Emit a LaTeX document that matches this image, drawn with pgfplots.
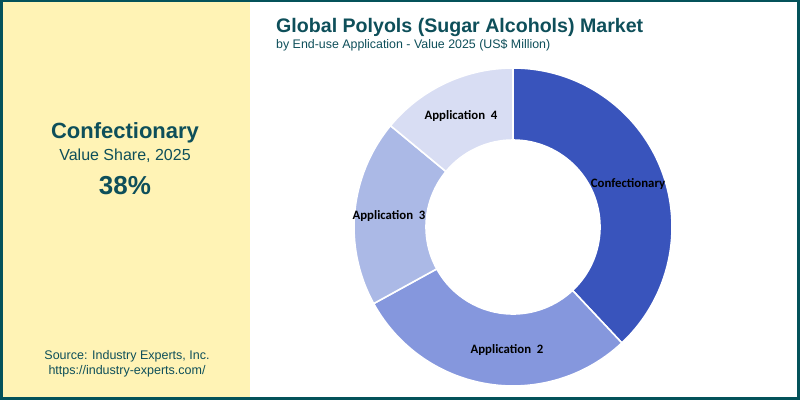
\documentclass[border=0pt]{standalone}
\usepackage{pgfplots}
\pgfplotsset{compat=1.18}
\usepackage{pgfplotstable}
\usepackage{fontspec}
\setmainfont{Liberation Sans}
\newfontfamily\lblfont{Carlito}
\definecolor{bordc}{RGB}{4,82,90}
\definecolor{txtc}{RGB}{14,79,90}
\definecolor{panel}{RGB}{255,243,181}
\definecolor{c1}{RGB}{57,84,188}
\definecolor{c2}{RGB}{133,151,221}
\definecolor{c3}{RGB}{171,185,230}
\definecolor{c4}{RGB}{216,221,243}
\pgfplotstableread[col sep=comma]{
label,value
Confectionary,38
Application 2,29
Application 3,19
Application 4,14
}\datatable
\def\Ro{159}\def\Ri{87}
\newcommand\donutwedge[3]{%
  \fill[#3,draw=white,line width=1.6pt]
   (axis cs:{\Ro*cos(#1)},{\Ro*sin(#1)}) arc[start angle=#1,end angle=#2,radius=\Ro]
   -- (axis cs:{\Ri*cos(#2)},{\Ri*sin(#2)}) arc[start angle=#2,end angle=#1,radius=\Ri] -- cycle;}
\begin{document}
\begin{tikzpicture}[x=1pt,y=1pt]
\fill[bordc] (0,0) rectangle (800,400);
\fill[white] (2.5,3) rectangle (797,398);
\fill[panel] (2.5,3) rectangle (250,398);
\node[font=\fontsize{22}{26}\selectfont\bfseries,text=txtc] at (125,267) {Confectionary};
\node[font=\fontsize{16}{19}\selectfont,text=txtc] at (125,244) {Value Share, 2025};
\node[font=\fontsize{26}{30}\selectfont\bfseries,text=txtc] at (125,214) {38\%};
\node[font=\fontsize{12.5}{15}\selectfont,text=txtc,align=center] at (127,36) {Source: Industry Experts, Inc.\\https://industry-experts.com/};
\node[anchor=base west,font=\fontsize{19.6}{24}\selectfont\bfseries,text=txtc,inner sep=0pt] at (276,367) {Global Polyols (Sugar Alcohols) Market};
\node[anchor=base west,font=\fontsize{12.4}{15}\selectfont,text=txtc,inner sep=0pt] at (276,352) {by End-use Application - Value 2025 (US\$ Million)};
% cumulative angles from table values
\pgfplotstablegetelem{0}{value}\of\datatable \pgfmathsetmacro{\va}{\pgfplotsretval}
\pgfplotstablegetelem{1}{value}\of\datatable \pgfmathsetmacro{\vb}{\pgfplotsretval}
\pgfplotstablegetelem{2}{value}\of\datatable \pgfmathsetmacro{\vc}{\pgfplotsretval}
\pgfplotstablegetelem{3}{value}\of\datatable \pgfmathsetmacro{\vd}{\pgfplotsretval}
\pgfmathsetmacro{\tot}{\va+\vb+\vc+\vd}
\pgfmathsetmacro{\unitang}{360/\tot}
\pgfmathsetmacro{\aA}{90}
\pgfmathsetmacro{\aB}{90-\unitang*\va}
\pgfmathsetmacro{\aC}{90-\unitang*(\va+\vb)}
\pgfmathsetmacro{\aD}{90-\unitang*(\va+\vb+\vc)}
\pgfmathsetmacro{\aE}{-270}
\begin{axis}[x=1pt,y=1pt,xmin=-170,xmax=170,ymin=-170,ymax=170,hide axis,clip=false,
  anchor=south west,at={(343,3)}]
\donutwedge{\aA}{\aB}{c1}
\donutwedge{\aB}{\aC}{c2}
\donutwedge{\aC}{\aD}{c3}
\donutwedge{\aD}{\aE}{c4}
\node[font=\lblfont\fontsize{12.8}{15}\selectfont\bfseries] at (axis cs:115,43) {Confectionary};
\node[font=\lblfont\fontsize{12.8}{15}\selectfont\bfseries] at (axis cs:-6,-123) {Application\ \ 2};
\node[font=\lblfont\fontsize{12.8}{15}\selectfont\bfseries] at (axis cs:-124,11) {Application\ \ 3};
\node[font=\lblfont\fontsize{12.8}{15}\selectfont\bfseries] at (axis cs:-52,111) {Application\ \ 4};
\end{axis}
\end{tikzpicture}
\end{document}
